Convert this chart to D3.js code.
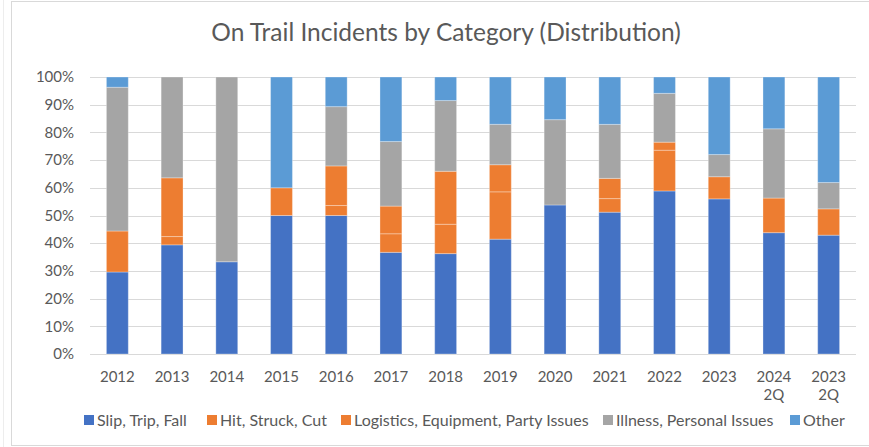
<!DOCTYPE html>
<html>
<head>
<meta charset="utf-8">
<script src="https://cdn.jsdelivr.net/npm/d3@7"></script>
<style>
  body { margin: 0; background: #fff; }
  text { font-family: Lato, "Open Sans", sans-serif; fill: #595959; }
</style>
</head>
<body>
<div id="chart"></div>
<script>
(function() {
    // categories (x axis), second line of label where present
    var years = ["2012", "2013", "2014", "2015", "2016", "2017", "2018", "2019", "2020", "2021", "2022", "2023", "2024 2Q", "2023 2Q"];

    // share of incidents per category, in percent
    var slipTripFall = [29.6, 39.4, 33.3, 50.0, 50.0, 36.7, 36.2, 41.5, 53.8, 51.2, 58.8, 56.0, 43.8, 42.9];
    var hitStruckCut = [14.8, 3.0, 0, 10.0, 3.6, 6.7, 10.6, 17.1, 0, 4.9, 14.7, 8.0, 12.5, 9.5];
    var logistics = [0, 21.2, 0, 0, 14.3, 10.0, 19.1, 9.8, 0, 7.3, 2.9, 0, 0, 0];
    var illness = [51.9, 36.4, 66.7, 0, 21.4, 23.3, 25.5, 14.6, 30.8, 19.5, 17.6, 8.0, 25.0, 9.5];
    var other = [3.7, 0, 0, 40.0, 10.7, 23.3, 8.5, 17.1, 15.4, 17.1, 5.9, 28.0, 18.7, 38.1];

    var seriesNames = ["Slip, Trip, Fall", "Hit, Struck, Cut", "Logistics, Equipment, Party Issues", "Illness, Personal Issues", "Other"];
    var seriesValues = [slipTripFall, hitStruckCut, logistics, illness, other];
    var seriesColors = ["#4472C4", "#ED7D31", "#ED7D31", "#A5A5A5", "#5B9BD5"];
    var yTicks = [0, 0.1, 0.2, 0.3, 0.4, 0.5, 0.6, 0.7, 0.8, 0.9, 1];

    var width = 869;
    var height = 447;
    var plotLeft = 90;
    var plotRight = 856;
    var plotTop = 77;
    var plotBottom = 354;

    var rows = years.map(function(y, i) {
        var row = { year: y };
        seriesNames.forEach(function(name, s) { row[name] = seriesValues[s][i]; });
        return row;
    });

    var stack = d3.stack()
        .keys(seriesNames)
        .offset(d3.stackOffsetExpand);
    var layers = stack(rows);

    var x = d3.scaleBand()
        .domain(years)
        .range([plotLeft, plotRight])
        .paddingInner(0.6)
        .paddingOuter(0.3);

    var y = d3.scaleLinear()
        .domain([0, 1])
        .range([plotBottom, plotTop]);

    var svg = d3.select("#chart").append("svg")
        .attr("width", width)
        .attr("height", height);

    // chart frame
    svg.append("rect")
        .attr("x", 11.5)
        .attr("y", 1.5)
        .attr("width", width)
        .attr("height", 444)
        .attr("fill", "none")
        .attr("stroke", "#D9D9D9");
    svg.append("line")
        .attr("x1", 3.5).attr("x2", 3.5)
        .attr("y1", 0).attr("y2", height)
        .attr("stroke", "#EDEDED");

    svg.append("text")
        .attr("x", 446)
        .attr("y", 41)
        .attr("text-anchor", "middle")
        .style("font-size", "24.5px")
        .text("On Trail Incidents by Category (Distribution)");

    // gridlines
    svg.append("g")
        .selectAll("line")
        .data(yTicks)
        .enter()
        .append("line")
        .attr("x1", plotLeft)
        .attr("x2", plotRight)
        .attr("y1", function(d) { return Math.round(y(d)) + 0.5; })
        .attr("y2", function(d) { return Math.round(y(d)) + 0.5; })
        .attr("stroke", "#D9D9D9")
        .attr("stroke-width", 1);

    svg.append("g")
        .selectAll("text")
        .data(yTicks)
        .enter()
        .append("text")
        .attr("x", 74)
        .attr("y", function(d) { return y(d); })
        .attr("dy", "0.35em")
        .attr("text-anchor", "end")
        .style("font-size", "15px")
        .text(d3.format(".0%"));

    // bars
    svg.append("g")
        .selectAll("g")
        .data(layers)
        .enter()
        .append("g")
        .attr("fill", function(d, i) { return seriesColors[i]; })
        .selectAll("rect")
        .data(function(d) { return d.filter(function(p) { return p[1] > p[0]; }); })
        .enter()
        .append("rect")
        .attr("x", function(d) { return x(d.data.year); })
        .attr("width", x.bandwidth())
        .attr("y", function(d) { return y(d[1]); })
        .attr("height", function(d) { return y(d[0]) - y(d[1]); })
        .attr("stroke", "#fff")
        .attr("stroke-opacity", 0.3)
        .attr("stroke-width", 1);

    // x labels
    var xLabels = svg.append("g")
        .selectAll("text")
        .data(years)
        .enter()
        .append("text")
        .attr("x", function(d) { return x(d) + x.bandwidth() / 2; })
        .attr("y", 382)
        .attr("text-anchor", "middle")
        .style("font-size", "15px");
    xLabels.selectAll("tspan")
        .data(function(d) { return d.split(" "); })
        .enter()
        .append("tspan")
        .attr("x", function() { return d3.select(this.parentNode).attr("x"); })
        .attr("dy", function(d, i) { return i ? 18 : 0; })
        .text(function(d) { return d; });

    // legend
    var legendX = [84, 207, 341, 603, 790];
    var legend = svg.append("g")
        .selectAll("g")
        .data(seriesNames)
        .enter()
        .append("g")
        .attr("transform", function(d, i) { return "translate(" + legendX[i] + ",415)"; });
    legend.append("rect")
        .attr("width", 10)
        .attr("height", 10)
        .attr("fill", function(d, i) { return seriesColors[i]; });
    legend.append("text")
        .attr("x", 13)
        .attr("y", 5)
        .attr("dy", "0.35em")
        .style("font-size", "16px")
        .text(function(d) { return d; });
})();
</script>
</body>
</html>
